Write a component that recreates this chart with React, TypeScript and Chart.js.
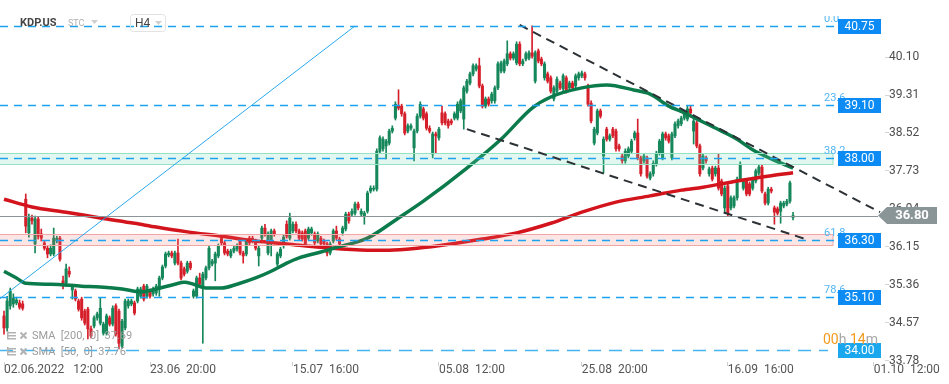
import React, { useEffect, useRef } from 'react';
import { Chart, registerables } from 'chart.js';

Chart.register(...registerables);

// ---- Candle data (H4, KDP.US) ----
const OPEN = [
  34.71, 34.46, 34.92, 34.96, 34.98, 34.98, 34.96, 37.14, 36.44, 36.75,
  36.21, 36.73, 36.42, 36.23, 36.12, 36.00, 36.00, 36.27, 36.33, 35.44,
  35.39, 35.64, 35.25, 35.23, 35.02, 35.06, 34.81, 34.85, 34.44, 34.50,
  34.67, 34.56, 34.35, 34.35, 34.67, 34.54, 34.92, 34.81, 34.08, 34.46,
  34.92, 34.96, 34.98, 35.02, 35.12, 35.33, 35.12, 35.23, 35.17, 35.19,
  35.27, 35.50, 35.75, 35.98, 36.02, 35.81, 36.02, 35.81, 35.69, 35.64,
  35.81, 35.12, 35.12, 35.50, 35.29, 35.50, 35.71, 35.79, 35.81, 35.96,
  36.33, 36.23, 36.06, 35.96, 36.06, 36.10, 36.27, 36.02, 36.00, 36.33,
  36.33, 36.27, 35.96, 36.33, 36.54, 36.02, 36.23, 36.48, 35.79, 35.96,
  36.17, 36.62, 36.33, 36.48, 36.62, 36.48, 36.44, 36.48, 36.33, 36.44,
  36.42, 36.27, 36.33, 36.27, 36.21, 36.02, 36.27, 36.48, 36.31, 36.44,
  36.52, 36.83, 36.83, 36.85, 37.04, 36.83, 36.79, 36.89, 37.31, 37.35,
  37.35, 38.14, 38.19, 38.25, 38.31, 38.56, 38.83, 39.08, 39.08, 38.92,
  38.56, 38.62, 38.21, 38.56, 38.87, 39.02, 38.92, 38.62, 38.08, 38.50,
  38.42, 38.94, 38.92, 38.77, 38.77, 38.83, 38.83, 38.98, 38.81, 39.39,
  39.56, 39.75, 39.85, 39.92, 39.50, 39.08, 39.23, 39.19, 39.19, 39.46,
  39.81, 39.81, 39.96, 40.17, 40.08, 39.98, 40.37, 39.96, 40.06, 40.08,
  40.19, 39.60, 40.23, 40.06, 39.67, 39.75, 39.67, 39.23, 39.39, 39.56,
  39.44, 39.67, 39.46, 39.56, 39.50, 39.67, 39.71, 39.75, 39.50, 39.14,
  38.31, 38.52, 38.98, 38.04, 38.60, 38.39, 38.60, 38.56, 38.25, 38.04,
  37.94, 38.04, 38.14, 38.42, 38.52, 38.00, 37.94, 38.00, 37.58, 37.67,
  37.87, 38.10, 38.00, 38.50, 38.46, 38.00, 38.46, 38.67, 38.71, 38.83,
  38.81, 39.02, 38.56, 38.73, 38.25, 37.79, 38.00, 37.67, 37.79, 37.67,
  37.79, 37.52, 36.96, 37.42, 36.96, 37.00, 37.17, 37.56, 37.37, 37.52,
  37.46, 37.37, 37.52, 37.69, 37.81, 37.25, 37.06, 37.35, 36.96, 36.94,
  36.89, 37.00, 37.04, 37.10, 36.76,
];
const HIGH = [
  34.81, 35.12, 35.29, 35.17, 35.10, 35.04, 35.02, 37.25, 36.83, 36.81,
  36.79, 36.77, 36.52, 36.27, 36.17, 36.19, 36.54, 36.37, 36.37, 35.54,
  35.79, 35.73, 35.37, 35.27, 35.06, 35.10, 34.85, 34.89, 34.50, 34.71,
  34.79, 35.08, 34.58, 34.75, 34.71, 34.92, 34.96, 34.85, 34.64, 35.06,
  35.06, 35.06, 35.02, 35.31, 35.31, 35.37, 35.37, 35.27, 35.31, 35.37,
  35.54, 35.77, 36.04, 36.06, 36.06, 36.06, 36.31, 35.85, 35.73, 35.85,
  35.85, 35.27, 35.54, 35.60, 35.62, 35.75, 36.17, 35.89, 36.04, 36.21,
  36.37, 36.27, 36.10, 36.10, 36.17, 36.21, 36.31, 36.06, 36.31, 36.37,
  36.37, 36.31, 36.17, 36.58, 36.62, 36.46, 36.52, 36.52, 36.04, 36.14,
  36.39, 36.69, 36.85, 36.67, 36.67, 36.52, 36.48, 36.52, 36.56, 36.56,
  36.46, 36.46, 36.37, 36.31, 36.25, 36.25, 36.52, 36.58, 36.35, 36.58,
  36.87, 36.87, 36.94, 37.08, 37.08, 36.94, 36.89, 37.31, 37.42, 37.42,
  38.19, 38.46, 38.44, 38.39, 38.60, 38.67, 39.17, 39.42, 39.12, 38.96,
  38.71, 38.71, 38.60, 38.92, 39.17, 39.06, 38.96, 38.67, 38.54, 38.54,
  38.64, 39.08, 38.96, 38.81, 38.81, 38.96, 39.17, 39.23, 39.50, 39.64,
  39.79, 39.96, 39.96, 40.08, 39.54, 39.27, 39.27, 39.37, 39.50, 40.00,
  40.02, 40.06, 40.44, 40.21, 40.21, 40.42, 40.42, 40.06, 40.21, 40.23,
  40.75, 40.23, 40.27, 40.10, 40.00, 39.79, 39.71, 39.50, 39.69, 39.60,
  39.75, 39.71, 39.60, 39.60, 39.75, 39.79, 39.81, 39.79, 39.54, 39.19,
  38.64, 39.02, 39.02, 38.44, 38.64, 38.50, 38.64, 38.60, 38.29, 38.08,
  38.19, 38.23, 38.39, 38.56, 38.81, 38.04, 38.08, 38.04, 37.71, 37.94,
  38.14, 38.39, 38.54, 38.54, 38.50, 38.54, 38.75, 38.81, 38.87, 38.98,
  39.08, 39.08, 38.81, 38.77, 38.29, 38.08, 38.04, 37.81, 37.83, 37.83,
  38.08, 37.56, 37.42, 37.46, 37.21, 37.21, 37.60, 37.92, 37.56, 37.56,
  37.50, 37.60, 37.77, 37.85, 37.85, 37.29, 37.39, 37.39, 37.00, 36.98,
  37.10, 37.10, 37.14, 37.52, 36.87,
];
const LOW = [
  34.33, 34.39, 34.85, 34.89, 34.94, 34.85, 34.83, 36.44, 36.35, 36.62,
  36.02, 36.31, 36.27, 36.08, 35.92, 35.96, 35.96, 36.23, 35.85, 35.27,
  35.33, 35.52, 35.06, 35.02, 34.81, 34.62, 34.52, 34.23, 34.25, 34.46,
  34.62, 34.52, 34.31, 34.31, 34.50, 34.50, 34.29, 34.02, 34.04, 34.42,
  34.87, 34.92, 34.73, 34.98, 35.08, 35.02, 35.08, 35.08, 35.12, 35.14,
  35.12, 35.46, 35.71, 35.94, 35.92, 35.77, 35.77, 35.46, 35.54, 35.60,
  35.67, 35.08, 35.08, 35.33, 34.14, 35.46, 35.67, 35.75, 35.44, 35.92,
  36.19, 35.98, 35.96, 35.92, 36.02, 36.06, 35.98, 35.81, 35.96, 36.19,
  36.23, 36.08, 35.75, 36.29, 36.37, 35.98, 35.96, 36.37, 35.75, 35.92,
  36.12, 36.33, 36.29, 36.44, 36.44, 36.29, 36.27, 36.17, 36.29, 36.39,
  36.19, 36.23, 36.17, 36.17, 35.96, 35.98, 36.23, 36.29, 36.17, 36.39,
  36.48, 36.64, 36.79, 36.81, 36.92, 36.79, 36.62, 36.85, 37.27, 37.31,
  37.31, 38.10, 38.14, 37.98, 38.27, 38.52, 38.79, 39.00, 38.87, 38.48,
  38.52, 38.58, 37.94, 38.52, 38.83, 38.79, 38.58, 38.52, 38.00, 38.10,
  38.37, 38.69, 38.69, 38.62, 38.69, 38.79, 38.79, 38.94, 38.60, 39.35,
  39.52, 39.71, 39.81, 39.46, 39.04, 39.04, 39.08, 39.14, 39.14, 39.42,
  39.77, 39.77, 39.92, 40.04, 40.04, 39.94, 39.92, 39.92, 40.02, 40.04,
  40.08, 39.56, 39.98, 39.92, 39.62, 39.56, 39.35, 39.19, 39.35, 39.42,
  39.39, 39.35, 39.42, 39.42, 39.46, 39.62, 39.67, 39.62, 39.08, 38.73,
  38.27, 38.48, 38.83, 37.69, 38.35, 38.35, 38.42, 38.14, 38.14, 37.89,
  37.89, 38.00, 38.10, 38.37, 37.96, 37.62, 37.89, 37.58, 37.54, 37.62,
  37.83, 38.06, 37.96, 38.37, 38.31, 37.96, 38.42, 38.62, 38.67, 38.79,
  38.77, 38.89, 38.29, 38.21, 37.62, 37.75, 37.89, 37.62, 37.52, 37.62,
  37.33, 37.21, 36.85, 36.79, 36.92, 36.96, 37.12, 37.52, 37.33, 37.21,
  37.21, 37.33, 37.48, 37.64, 37.27, 37.02, 37.02, 37.27, 36.62, 36.81,
  36.64, 36.96, 37.00, 37.06, 36.71,
];
const CLOSE = [
  34.46, 35.02, 35.23, 35.08, 35.04, 34.89, 34.87, 36.58, 36.75, 36.69,
  36.73, 36.37, 36.33, 36.12, 36.00, 36.12, 36.33, 36.33, 35.89, 35.37,
  35.69, 35.58, 35.33, 35.06, 34.85, 34.67, 34.56, 34.44, 34.29, 34.67,
  34.75, 34.87, 34.54, 34.71, 34.54, 34.87, 34.33, 34.14, 34.60, 35.02,
  35.02, 35.02, 34.77, 35.27, 35.27, 35.06, 35.33, 35.12, 35.27, 35.33,
  35.50, 35.73, 36.00, 36.02, 35.96, 36.02, 35.81, 35.50, 35.58, 35.81,
  35.71, 35.23, 35.50, 35.37, 35.58, 35.71, 36.12, 35.85, 36.00, 36.17,
  36.23, 36.02, 36.00, 36.06, 36.12, 36.17, 36.02, 35.96, 36.27, 36.23,
  36.27, 36.12, 36.12, 36.54, 36.42, 36.42, 36.48, 36.42, 36.00, 36.10,
  36.35, 36.37, 36.75, 36.62, 36.48, 36.33, 36.31, 36.21, 36.52, 36.52,
  36.23, 36.42, 36.21, 36.21, 36.02, 36.21, 36.48, 36.33, 36.21, 36.54,
  36.83, 36.69, 36.89, 37.04, 36.96, 36.89, 36.85, 37.27, 37.37, 37.37,
  38.14, 38.42, 38.39, 38.35, 38.56, 38.62, 39.12, 39.04, 38.92, 38.52,
  38.67, 38.67, 38.56, 38.87, 39.12, 38.83, 38.62, 38.56, 38.50, 38.46,
  38.60, 38.73, 38.73, 38.67, 38.73, 38.92, 39.12, 39.19, 39.46, 39.60,
  39.75, 39.92, 39.92, 39.50, 39.08, 39.23, 39.12, 39.33, 39.46, 39.96,
  39.98, 40.02, 40.17, 40.08, 40.17, 40.37, 39.96, 40.02, 40.17, 40.19,
  40.12, 40.19, 40.02, 39.96, 39.96, 39.60, 39.39, 39.46, 39.64, 39.46,
  39.71, 39.39, 39.56, 39.46, 39.71, 39.75, 39.77, 39.67, 39.12, 38.77,
  38.60, 38.98, 38.87, 38.39, 38.39, 38.46, 38.46, 38.19, 38.19, 37.94,
  38.14, 38.19, 38.35, 38.52, 38.00, 37.67, 38.04, 37.62, 37.67, 37.89,
  38.10, 38.35, 38.50, 38.42, 38.35, 38.50, 38.71, 38.77, 38.83, 38.94,
  39.02, 38.94, 38.77, 38.25, 37.67, 38.04, 37.94, 37.77, 37.56, 37.79,
  37.37, 37.25, 37.37, 36.85, 37.17, 37.17, 37.56, 37.87, 37.52, 37.25,
  37.25, 37.56, 37.73, 37.81, 37.31, 37.06, 37.35, 37.31, 36.87, 36.85,
  37.06, 37.06, 37.10, 37.48, 36.80,
];

// ---- Moving averages (candle index -> price) ----
const SMA200_IDX = [0, 9, 20, 31, 42, 49, 59, 70, 81, 91, 102, 117, 124, 133, 144, 154, 165, 176, 186, 197, 208, 218, 225, 236, 247, 254];
const SMA200_VAL = [37.14, 36.98, 36.87, 36.75, 36.64, 36.56, 36.46, 36.37, 36.27, 36.21, 36.14, 36.08, 36.08, 36.12, 36.21, 36.31, 36.44, 36.64, 36.87, 37.08, 37.21, 37.33, 37.39, 37.52, 37.63, 37.69];
const SMA50_IDX = [0, 4, 7, 15, 25, 31, 38, 44, 49, 55, 58, 61, 65, 70, 75, 81, 86, 91, 95, 102, 106, 117, 127, 135, 149, 160, 170, 176, 186, 194, 203, 208, 214, 219, 225, 231, 236, 241, 247, 254];
const SMA50_VAL = [35.64, 35.50, 35.39, 35.37, 35.33, 35.31, 35.27, 35.21, 35.27, 35.37, 35.41, 35.37, 35.29, 35.29, 35.37, 35.50, 35.64, 35.81, 35.92, 36.04, 36.12, 36.33, 36.75, 37.10, 37.79, 38.39, 39.04, 39.27, 39.46, 39.52, 39.41, 39.33, 39.08, 38.94, 38.75, 38.56, 38.39, 38.17, 37.98, 37.79];

// ---- Drawn tools ----
const TREND_IDX = [-1.3, 113];
const TREND_VAL = [35.07, 40.75];
const CHANNEL_TOP_IDX = [166, 282];
const CHANNEL_TOP_VAL = [40.77, 36.87];
const CHANNEL_LOW_IDX = [149, 259];
const CHANNEL_LOW_VAL = [38.60, 36.29];

const FIB_LEVELS = [40.75, 39.10, 38.00, 36.30, 35.10];
const FIB_NAMES = ['0.0', '23.6', '38.2', '61.8', '78.6'];
const SUPPORT_LEVEL = 34.0;
const LAST_PRICE = 36.8;
const GREEN_ZONE = [37.87, 38.1];
const RED_ZONE = [36.18, 36.41];
const SMA200_LAST = '37.69';
const SMA50_LAST = '37.76';

// ---- Axes ----
const X_TICKS = [0, 47, 93, 140, 186, 233, 280];
const X_LABELS = ['02.06.2022   12:00', '23.06  20:00', '15.07  16:00', '05.08  12:00', '25.08  20:00', '16.09  16:00', '01.10  12:00'];
const Y_TICKS = [33.78, 34.57, 35.36, 36.15, 36.94, 37.73, 38.52, 39.31, 40.1];
const X_MIN = -1.29;
const X_MAX = 283.6;
const Y_MIN = 33.75;
const Y_MAX = 41.29;

const FONT = 'Roboto, "Noto Sans", sans-serif';
const UP = '#15875a';
const DOWN = '#d5202c';

const overlay = {
  id: 'overlay',
  afterDatasetDraw(chart: any, args: any) {
    if (chart.data.datasets[args.index].label !== 'SMA 50') return;
    const { ctx, chartArea: a, scales } = chart;
    const y = scales.y;
    const right = a.right - 52;
    const band = (lo: number, hi: number, fill: string, stroke: string) => {
      const t = Math.round(y.getPixelForValue(hi)) + 0.5;
      const b = Math.round(y.getPixelForValue(lo)) + 0.5;
      ctx.save();
      ctx.fillStyle = fill;
      ctx.fillRect(a.left, t, right - a.left, b - t);
      ctx.strokeStyle = stroke;
      ctx.lineWidth = 1;
      ctx.strokeRect(a.left - 1, t, right - a.left + 1, b - t);
      ctx.restore();
    };
    band(GREEN_ZONE[0], GREEN_ZONE[1], 'rgba(110,215,175,0.2)', '#94e1c3');
    band(RED_ZONE[0], RED_ZONE[1], 'rgba(240,110,110,0.18)', '#f2a6a6');
  },
  afterDraw(chart: any) {
    const { ctx, chartArea: a, scales } = chart;
    const y = scales.y;
    const R = a.right;
    ctx.save();

    // last price line
    const yl = Math.round(y.getPixelForValue(LAST_PRICE)) + 0.5;
    ctx.strokeStyle = '#8b9497';
    ctx.lineWidth = 1;
    ctx.beginPath();
    ctx.moveTo(a.left, yl);
    ctx.lineTo(R - 7, yl);
    ctx.stroke();

    // fibonacci levels
    ctx.setLineDash([8, 6]);
    ctx.strokeStyle = '#1ea2ee';
    ctx.lineWidth = 1.3;
    FIB_LEVELS.forEach((v) => {
      const py = Math.round(y.getPixelForValue(v)) + 0.5;
      ctx.beginPath();
      ctx.moveTo(a.left, py);
      ctx.lineTo(R - 50, py);
      ctx.stroke();
    });
    ctx.setLineDash([13, 8]);
    ctx.strokeStyle = '#45b4f0';
    ctx.lineWidth = 1.6;
    const ys = Math.round(y.getPixelForValue(SUPPORT_LEVEL)) + 0.5;
    ctx.beginPath();
    ctx.moveTo(a.left, ys);
    ctx.lineTo(R - 57, ys);
    ctx.stroke();
    ctx.setLineDash([]);

    // fib names
    ctx.font = `11px ${FONT}`;
    ctx.fillStyle = '#52b6f2';
    ctx.textAlign = 'left';
    ctx.textBaseline = 'alphabetic';
    FIB_LEVELS.forEach((v, k) => {
      const py = y.getPixelForValue(v);
      ctx.save();
      ctx.beginPath();
      ctx.rect(0, 16, 949, 400);
      ctx.clip();
      ctx.fillText(FIB_NAMES[k], R - 61, py - 4);
      ctx.restore();
    });

    // price boxes
    const box = (v: number, color: string) => {
      const py = y.getPixelForValue(v);
      ctx.fillStyle = color;
      ctx.fillRect(R - 47, Math.round(py - 7), 43, 15);
      ctx.fillStyle = '#ffffff';
      ctx.font = `12px ${FONT}`;
      ctx.textAlign = 'center';
      ctx.textBaseline = 'middle';
      ctx.fillText(v.toFixed(2), R - 25.5, Math.round(py - 7) + 8);
    };
    FIB_LEVELS.forEach((v) => box(v, '#0b8bf3'));
    box(SUPPORT_LEVEL, '#1ba7ee');

    // last price arrow label
    const pl = y.getPixelForValue(LAST_PRICE);
    ctx.fillStyle = '#8a9598';
    ctx.beginPath();
    ctx.moveTo(R - 7, pl);
    ctx.lineTo(R + 2, pl - 8.5);
    ctx.lineTo(R + 52, pl - 8.5);
    ctx.lineTo(R + 52, pl + 8.5);
    ctx.lineTo(R + 2, pl + 8.5);
    ctx.closePath();
    ctx.fill();
    ctx.fillStyle = '#ffffff';
    ctx.font = `bold 13px ${FONT}`;
    ctx.textAlign = 'center';
    ctx.textBaseline = 'middle';
    ctx.fillText(LAST_PRICE.toFixed(2), R + 27, pl + 0.5);

    // candle countdown
    ctx.font = `14px ${FONT}`;
    ctx.textAlign = 'left';
    ctx.textBaseline = 'middle';
    let tx = R - 62;
    const ty = ys - 10;
    const parts: [string, string][] = [['00', '#f39a1e'], ['h ', '#a8a8a8'], ['14', '#f39a1e'], ['m', '#a8a8a8']];
    parts.forEach(([t, c]) => {
      ctx.fillStyle = c;
      ctx.fillText(t, tx, ty);
      tx += ctx.measureText(t).width;
    });

    // header
    ctx.textBaseline = 'middle';
    ctx.fillStyle = '#454545';
    ctx.font = `bold 11px ${FONT}`;
    ctx.fillText('KDP.US', 20, 23);
    ctx.fillStyle = '#b0b0b0';
    ctx.font = `9px ${FONT}`;
    ctx.fillText('STC', 68, 24);
    ctx.fillStyle = '#cfcfcf';
    ctx.beginPath();
    ctx.moveTo(91, 20); ctx.lineTo(98, 20); ctx.lineTo(94.5, 24); ctx.closePath();
    ctx.fill();
    ctx.strokeStyle = '#e2e2e2';
    ctx.lineWidth = 1;
    ctx.beginPath();
    (ctx as any).roundRect ? (ctx as any).roundRect(130.5, 14.5, 35, 17, 3) : ctx.rect(130.5, 14.5, 35, 17);
    ctx.stroke();
    ctx.fillStyle = '#444';
    ctx.font = `12px ${FONT}`;
    ctx.fillText('H4', 135, 23.5);
    ctx.fillStyle = '#cfcfcf';
    ctx.beginPath();
    ctx.moveTo(155, 21); ctx.lineTo(162, 21); ctx.lineTo(158.5, 25); ctx.closePath();
    ctx.fill();

    // indicator legend
    const legendRow = (yy: number, text: string) => {
      ctx.fillStyle = '#b3b3b3';
      ctx.fillRect(7, yy - 4, 9, 1.5);
      ctx.fillRect(7, yy - 1, 9, 1.5);
      ctx.fillRect(7, yy + 2, 9, 1.5);
      ctx.fillRect(7, yy - 5, 1.5, 8);
      ctx.strokeStyle = '#b3b3b3';
      ctx.lineWidth = 2;
      ctx.beginPath();
      ctx.moveTo(20.5, yy - 3.5); ctx.lineTo(26.5, yy + 2.5);
      ctx.moveTo(26.5, yy - 3.5); ctx.lineTo(20.5, yy + 2.5);
      ctx.stroke();
      ctx.fillStyle = '#9c9c9c';
      ctx.font = `11px ${FONT}`;
      ctx.textBaseline = 'middle';
      ctx.fillText(text, 32, yy);
    };
    legendRow(336, `SMA  [200,  0]  ${SMA200_LAST}`);
    legendRow(352, `SMA  [50,  0]  ${SMA50_LAST}`);

    ctx.restore();
  },
};

export default function App() {
  const ref = useRef<HTMLCanvasElement>(null);
  useEffect(() => {
    const canvas = ref.current;
    if (!canvas) return;
    const idx = OPEN.map((_, i) => i);
    const colors = OPEN.map((o, i) => (CLOSE[i] >= o ? UP : DOWN));
    const chart = new Chart(canvas, {
      type: 'bar',
      data: {
        datasets: [
          {
            type: 'bar',
            label: 'wicks',
            data: idx.map((i) => ({ x: i, y: [LOW[i], HIGH[i]] })) as any,
            backgroundColor: colors,
            barThickness: 1,
            grouped: false,
            order: 6,
          },
          {
            type: 'bar',
            label: 'bodies',
            data: idx.map((i) => ({ x: i, y: [OPEN[i], CLOSE[i]] })) as any,
            backgroundColor: colors,
            barThickness: 2.4,
            minBarLength: 1,
            grouped: false,
            order: 5,
          },
          {
            type: 'line',
            label: 'SMA 200',
            data: SMA200_IDX.map((x, k) => ({ x, y: SMA200_VAL[k] })),
            borderColor: '#d3141c',
            borderWidth: 3.5,
            pointRadius: 0,
            cubicInterpolationMode: 'monotone',
            order: 4,
          },
          {
            type: 'line',
            label: 'SMA 50',
            data: SMA50_IDX.map((x, k) => ({ x, y: SMA50_VAL[k] })),
            borderColor: '#0b7b4c',
            borderWidth: 3.5,
            pointRadius: 0,
            cubicInterpolationMode: 'monotone',
            order: 3,
          },
          {
            type: 'line',
            label: 'trend',
            data: TREND_IDX.map((x, k) => ({ x, y: TREND_VAL[k] })),
            borderColor: '#2aa8ee',
            borderWidth: 1,
            pointRadius: 0,
            order: 2,
          },
          {
            type: 'line',
            label: 'channel top',
            data: CHANNEL_TOP_IDX.map((x, k) => ({ x, y: CHANNEL_TOP_VAL[k] })),
            borderColor: '#2c3135',
            borderWidth: 2,
            borderDash: [9, 6],
            pointRadius: 0,
            order: 1,
          },
          {
            type: 'line',
            label: 'channel low',
            data: CHANNEL_LOW_IDX.map((x, k) => ({ x, y: CHANNEL_LOW_VAL[k] })),
            borderColor: '#2c3135',
            borderWidth: 2,
            borderDash: [9, 6],
            pointRadius: 0,
            order: 1,
          },
        ] as any,
      },
      options: {
        responsive: false,
        devicePixelRatio: 1,
        animation: false,
        layout: { padding: 0 },
        plugins: {
          legend: { display: false },
          tooltip: { enabled: false },
          title: { display: false },
        },
        scales: {
          x: {
            type: 'linear',
            min: X_MIN,
            max: X_MAX,
            offset: false,
            grid: { display: true, drawOnChartArea: false, drawTicks: true, tickLength: 4, color: '#cfcfcf', offset: false },
            border: { display: false },
            afterBuildTicks: (s: any) => {
              s.ticks = X_TICKS.map((v) => ({ value: v }));
            },
            afterFit: (s: any) => {
              s.height = 22;
              s.paddingLeft = 0;
              s.paddingRight = 0;
            },
            ticks: {
              autoSkip: false,
              maxRotation: 0,
              minRotation: 0,
              align: 'start',
              padding: -3,
              color: '#555555',
              font: { family: FONT, size: 12 },
              callback: (v: any) => {
                const k = X_TICKS.indexOf(Number(v));
                return k >= 0 ? X_LABELS[k] : '';
              },
            },
          },
          y: {
            type: 'linear',
            position: 'right',
            min: Y_MIN,
            max: Y_MAX,
            beginAtZero: false,
            grid: { drawOnChartArea: false, drawTicks: true, tickLength: 4, color: '#d5d5d5' },
            border: { display: false },
            afterBuildTicks: (s: any) => {
              s.ticks = Y_TICKS.map((v) => ({ value: v }));
            },
            afterFit: (s: any) => {
              s.width = 64;
              s.paddingTop = 0;
              s.paddingBottom = 0;
            },
            ticks: {
              padding: 0,
              color: '#4d4d4d',
              font: { family: FONT, size: 12 },
              callback: (v: any) => Number(v).toFixed(2),
            },
          },
        },
      } as any,
      plugins: [overlay as any],
    });
    return () => chart.destroy();
  }, []);
  return (
    <div style={{ position: 'absolute', left: 0, top: 0, width: 949, height: 384, background: '#ffffff' }}>
      <canvas ref={ref} width={949} height={384} style={{ display: 'block', width: 949, height: 384 }} />
    </div>
  );
}
